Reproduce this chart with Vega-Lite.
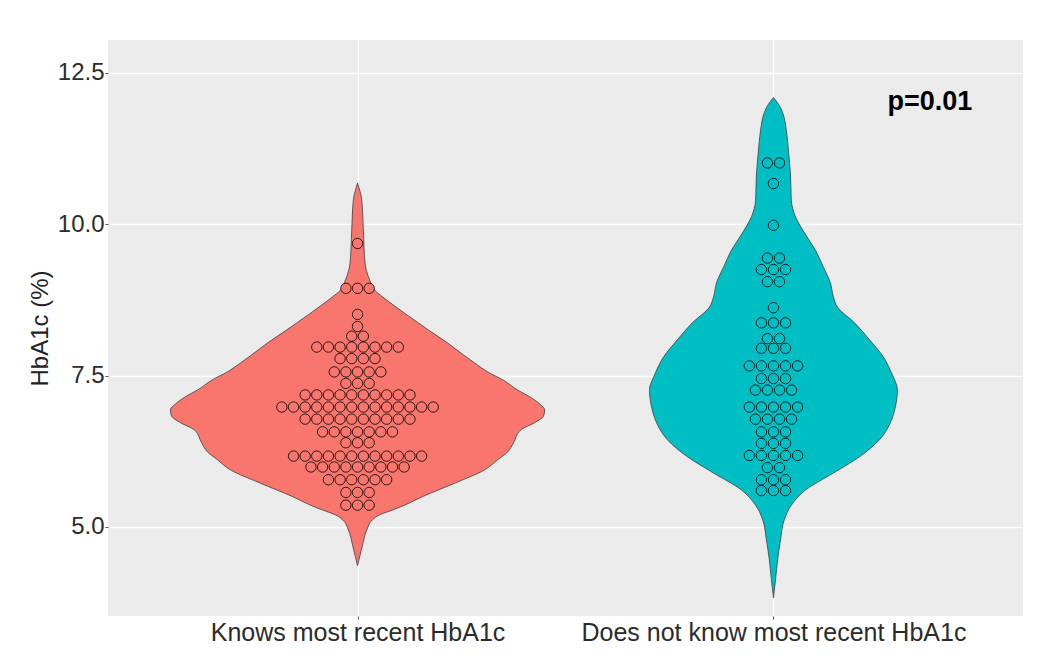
{
  "$schema": "https://vega.github.io/schema/vega-lite/v6.json",
  "width": 915,
  "height": 576,
  "autosize": {"type": "none"},
  "padding": {"left": 108, "top": 40, "right": 28, "bottom": 40},
  "background": "white",
  "config": {
    "view": {"fill": "#EBEBEB", "stroke": null},
    "font": "Liberation Sans",
    "axis": {
      "gridColor": "white",
      "gridWidth": 1.3,
      "domain": false,
      "tickColor": "#555555",
      "tickSize": 3,
      "labelColor": "#2b2b2b",
      "titleColor": "#222222",
      "labelFont": "Liberation Sans",
      "titleFont": "Liberation Sans",
      "titleFontWeight": "normal"
    }
  },
  "datasets": {
    "violin": [
      {"g": "K", "y": 10.68, "lo": 1, "hi": 1},
      {"g": "K", "y": 10.40, "lo": 0.99, "hi": 1.01},
      {"g": "K", "y": 9.90, "lo": 0.986, "hi": 1.014},
      {"g": "K", "y": 9.36, "lo": 0.982, "hi": 1.018},
      {"g": "K", "y": 9.08, "lo": 0.971, "hi": 1.029},
      {"g": "K", "y": 8.91, "lo": 0.959, "hi": 1.041},
      {"g": "K", "y": 8.80, "lo": 0.94, "hi": 1.06},
      {"g": "K", "y": 8.66, "lo": 0.913, "hi": 1.087},
      {"g": "K", "y": 8.53, "lo": 0.887, "hi": 1.113},
      {"g": "K", "y": 8.38, "lo": 0.856, "hi": 1.144},
      {"g": "K", "y": 8.25, "lo": 0.829, "hi": 1.171},
      {"g": "K", "y": 8.04, "lo": 0.784, "hi": 1.216},
      {"g": "K", "y": 7.84, "lo": 0.745, "hi": 1.255},
      {"g": "K", "y": 7.71, "lo": 0.719, "hi": 1.281},
      {"g": "K", "y": 7.56, "lo": 0.687, "hi": 1.313},
      {"g": "K", "y": 7.43, "lo": 0.651, "hi": 1.349},
      {"g": "K", "y": 7.26, "lo": 0.615, "hi": 1.385},
      {"g": "K", "y": 7.15, "lo": 0.586, "hi": 1.414},
      {"g": "K", "y": 7.03, "lo": 0.562, "hi": 1.438},
      {"g": "K", "y": 6.93, "lo": 0.55, "hi": 1.45},
      {"g": "K", "y": 6.83, "lo": 0.553, "hi": 1.447},
      {"g": "K", "y": 6.73, "lo": 0.572, "hi": 1.428},
      {"g": "K", "y": 6.60, "lo": 0.608, "hi": 1.392},
      {"g": "K", "y": 6.39, "lo": 0.625, "hi": 1.375},
      {"g": "K", "y": 6.24, "lo": 0.639, "hi": 1.361},
      {"g": "K", "y": 6.11, "lo": 0.663, "hi": 1.337},
      {"g": "K", "y": 5.94, "lo": 0.695, "hi": 1.305},
      {"g": "K", "y": 5.73, "lo": 0.764, "hi": 1.236},
      {"g": "K", "y": 5.50, "lo": 0.844, "hi": 1.156},
      {"g": "K", "y": 5.36, "lo": 0.887, "hi": 1.113},
      {"g": "K", "y": 5.28, "lo": 0.916, "hi": 1.084},
      {"g": "K", "y": 5.20, "lo": 0.947, "hi": 1.053},
      {"g": "K", "y": 5.12, "lo": 0.964, "hi": 1.036},
      {"g": "K", "y": 4.95, "lo": 0.978, "hi": 1.022},
      {"g": "K", "y": 4.70, "lo": 0.988, "hi": 1.012},
      {"g": "K", "y": 4.36, "lo": 1, "hi": 1},
      {"g": "D", "y": 12.09, "lo": 2, "hi": 2},
      {"g": "D", "y": 11.96, "lo": 1.986, "hi": 2.014},
      {"g": "D", "y": 11.80, "lo": 1.976, "hi": 2.024},
      {"g": "D", "y": 11.55, "lo": 1.969, "hi": 2.031},
      {"g": "D", "y": 11.22, "lo": 1.964, "hi": 2.036},
      {"g": "D", "y": 10.81, "lo": 1.959, "hi": 2.041},
      {"g": "D", "y": 10.39, "lo": 1.957, "hi": 2.043},
      {"g": "D", "y": 10.12, "lo": 1.947, "hi": 2.053},
      {"g": "D", "y": 9.85, "lo": 1.925, "hi": 2.075},
      {"g": "D", "y": 9.57, "lo": 1.899, "hi": 2.101},
      {"g": "D", "y": 9.29, "lo": 1.88, "hi": 2.12},
      {"g": "D", "y": 9.03, "lo": 1.863, "hi": 2.137},
      {"g": "D", "y": 8.80, "lo": 1.856, "hi": 2.144},
      {"g": "D", "y": 8.63, "lo": 1.846, "hi": 2.154},
      {"g": "D", "y": 8.37, "lo": 1.805, "hi": 2.195},
      {"g": "D", "y": 8.09, "lo": 1.769, "hi": 2.231},
      {"g": "D", "y": 7.81, "lo": 1.736, "hi": 2.264},
      {"g": "D", "y": 7.54, "lo": 1.716, "hi": 2.284},
      {"g": "D", "y": 7.26, "lo": 1.702, "hi": 2.298},
      {"g": "D", "y": 6.98, "lo": 1.707, "hi": 2.293},
      {"g": "D", "y": 6.72, "lo": 1.719, "hi": 2.281},
      {"g": "D", "y": 6.44, "lo": 1.745, "hi": 2.255},
      {"g": "D", "y": 6.16, "lo": 1.793, "hi": 2.207},
      {"g": "D", "y": 5.89, "lo": 1.856, "hi": 2.144},
      {"g": "D", "y": 5.61, "lo": 1.923, "hi": 2.077},
      {"g": "D", "y": 5.36, "lo": 1.957, "hi": 2.043},
      {"g": "D", "y": 5.12, "lo": 1.974, "hi": 2.026},
      {"g": "D", "y": 4.79, "lo": 1.983, "hi": 2.017},
      {"g": "D", "y": 4.46, "lo": 1.99, "hi": 2.01},
      {"g": "D", "y": 4.13, "lo": 1.995, "hi": 2.005},
      {"g": "D", "y": 3.83, "lo": 2, "hi": 2}
    ],
    "dots": [
      {"g": "K", "y": 9.68, "x": 1},
      {"g": "K", "y": 8.94, "x": 0.972}, {"g": "K", "y": 8.94, "x": 1}, {"g": "K", "y": 8.94, "x": 1.028},
      {"g": "K", "y": 8.51, "x": 1},
      {"g": "K", "y": 8.31, "x": 1},
      {"g": "K", "y": 8.15, "x": 0.986}, {"g": "K", "y": 8.15, "x": 1.014},
      {"g": "K", "y": 7.97, "x": 0.902}, {"g": "K", "y": 7.97, "x": 0.93}, {"g": "K", "y": 7.97, "x": 0.958}, {"g": "K", "y": 7.97, "x": 0.986}, {"g": "K", "y": 7.97, "x": 1.014}, {"g": "K", "y": 7.97, "x": 1.042}, {"g": "K", "y": 7.97, "x": 1.07}, {"g": "K", "y": 7.97, "x": 1.098},
      {"g": "K", "y": 7.78, "x": 0.958}, {"g": "K", "y": 7.78, "x": 0.986}, {"g": "K", "y": 7.78, "x": 1.014}, {"g": "K", "y": 7.78, "x": 1.042},
      {"g": "K", "y": 7.56, "x": 0.944}, {"g": "K", "y": 7.56, "x": 0.972}, {"g": "K", "y": 7.56, "x": 1}, {"g": "K", "y": 7.56, "x": 1.028}, {"g": "K", "y": 7.56, "x": 1.056},
      {"g": "K", "y": 7.37, "x": 0.972}, {"g": "K", "y": 7.37, "x": 1}, {"g": "K", "y": 7.37, "x": 1.028},
      {"g": "K", "y": 7.18, "x": 0.874}, {"g": "K", "y": 7.18, "x": 0.902}, {"g": "K", "y": 7.18, "x": 0.93}, {"g": "K", "y": 7.18, "x": 0.958}, {"g": "K", "y": 7.18, "x": 0.986}, {"g": "K", "y": 7.18, "x": 1.014}, {"g": "K", "y": 7.18, "x": 1.042}, {"g": "K", "y": 7.18, "x": 1.07}, {"g": "K", "y": 7.18, "x": 1.098}, {"g": "K", "y": 7.18, "x": 1.126},
      {"g": "K", "y": 6.98, "x": 0.818}, {"g": "K", "y": 6.98, "x": 0.846}, {"g": "K", "y": 6.98, "x": 0.874}, {"g": "K", "y": 6.98, "x": 0.902}, {"g": "K", "y": 6.98, "x": 0.93}, {"g": "K", "y": 6.98, "x": 0.958}, {"g": "K", "y": 6.98, "x": 0.986}, {"g": "K", "y": 6.98, "x": 1.014}, {"g": "K", "y": 6.98, "x": 1.042}, {"g": "K", "y": 6.98, "x": 1.07}, {"g": "K", "y": 6.98, "x": 1.098}, {"g": "K", "y": 6.98, "x": 1.126}, {"g": "K", "y": 6.98, "x": 1.154}, {"g": "K", "y": 6.98, "x": 1.182},
      {"g": "K", "y": 6.78, "x": 0.874}, {"g": "K", "y": 6.78, "x": 0.902}, {"g": "K", "y": 6.78, "x": 0.93}, {"g": "K", "y": 6.78, "x": 0.958}, {"g": "K", "y": 6.78, "x": 0.986}, {"g": "K", "y": 6.78, "x": 1.014}, {"g": "K", "y": 6.78, "x": 1.042}, {"g": "K", "y": 6.78, "x": 1.07}, {"g": "K", "y": 6.78, "x": 1.098}, {"g": "K", "y": 6.78, "x": 1.126},
      {"g": "K", "y": 6.57, "x": 0.916}, {"g": "K", "y": 6.57, "x": 0.944}, {"g": "K", "y": 6.57, "x": 0.972}, {"g": "K", "y": 6.57, "x": 1}, {"g": "K", "y": 6.57, "x": 1.028}, {"g": "K", "y": 6.57, "x": 1.056}, {"g": "K", "y": 6.57, "x": 1.084},
      {"g": "K", "y": 6.39, "x": 0.972}, {"g": "K", "y": 6.39, "x": 1}, {"g": "K", "y": 6.39, "x": 1.028},
      {"g": "K", "y": 6.17, "x": 0.846}, {"g": "K", "y": 6.17, "x": 0.874}, {"g": "K", "y": 6.17, "x": 0.902}, {"g": "K", "y": 6.17, "x": 0.93}, {"g": "K", "y": 6.17, "x": 0.958}, {"g": "K", "y": 6.17, "x": 0.986}, {"g": "K", "y": 6.17, "x": 1.014}, {"g": "K", "y": 6.17, "x": 1.042}, {"g": "K", "y": 6.17, "x": 1.07}, {"g": "K", "y": 6.17, "x": 1.098}, {"g": "K", "y": 6.17, "x": 1.126}, {"g": "K", "y": 6.17, "x": 1.154},
      {"g": "K", "y": 5.99, "x": 0.888}, {"g": "K", "y": 5.99, "x": 0.916}, {"g": "K", "y": 5.99, "x": 0.944}, {"g": "K", "y": 5.99, "x": 0.972}, {"g": "K", "y": 5.99, "x": 1}, {"g": "K", "y": 5.99, "x": 1.028}, {"g": "K", "y": 5.99, "x": 1.056}, {"g": "K", "y": 5.99, "x": 1.084}, {"g": "K", "y": 5.99, "x": 1.112},
      {"g": "K", "y": 5.78, "x": 0.93}, {"g": "K", "y": 5.78, "x": 0.958}, {"g": "K", "y": 5.78, "x": 0.986}, {"g": "K", "y": 5.78, "x": 1.014}, {"g": "K", "y": 5.78, "x": 1.042}, {"g": "K", "y": 5.78, "x": 1.07},
      {"g": "K", "y": 5.57, "x": 0.972}, {"g": "K", "y": 5.57, "x": 1}, {"g": "K", "y": 5.57, "x": 1.028},
      {"g": "K", "y": 5.36, "x": 0.972}, {"g": "K", "y": 5.36, "x": 1}, {"g": "K", "y": 5.36, "x": 1.028},
      {"g": "D", "y": 11.01, "x": 1.9855}, {"g": "D", "y": 11.01, "x": 2.0145},
      {"g": "D", "y": 10.67, "x": 2},
      {"g": "D", "y": 9.98, "x": 2},
      {"g": "D", "y": 9.44, "x": 1.9855}, {"g": "D", "y": 9.44, "x": 2.0145},
      {"g": "D", "y": 9.25, "x": 1.971}, {"g": "D", "y": 9.25, "x": 2}, {"g": "D", "y": 9.25, "x": 2.029},
      {"g": "D", "y": 9.05, "x": 1.9855}, {"g": "D", "y": 9.05, "x": 2.0145},
      {"g": "D", "y": 8.62, "x": 2},
      {"g": "D", "y": 8.37, "x": 1.971}, {"g": "D", "y": 8.37, "x": 2}, {"g": "D", "y": 8.37, "x": 2.029},
      {"g": "D", "y": 8.11, "x": 1.9855}, {"g": "D", "y": 8.11, "x": 2.0145},
      {"g": "D", "y": 7.95, "x": 1.971}, {"g": "D", "y": 7.95, "x": 2}, {"g": "D", "y": 7.95, "x": 2.029},
      {"g": "D", "y": 7.66, "x": 1.942}, {"g": "D", "y": 7.66, "x": 1.971}, {"g": "D", "y": 7.66, "x": 2}, {"g": "D", "y": 7.66, "x": 2.029}, {"g": "D", "y": 7.66, "x": 2.058},
      {"g": "D", "y": 7.45, "x": 1.971}, {"g": "D", "y": 7.45, "x": 2}, {"g": "D", "y": 7.45, "x": 2.029},
      {"g": "D", "y": 7.26, "x": 1.9565}, {"g": "D", "y": 7.26, "x": 1.9855}, {"g": "D", "y": 7.26, "x": 2.0145}, {"g": "D", "y": 7.26, "x": 2.0435},
      {"g": "D", "y": 6.98, "x": 1.942}, {"g": "D", "y": 6.98, "x": 1.971}, {"g": "D", "y": 6.98, "x": 2}, {"g": "D", "y": 6.98, "x": 2.029}, {"g": "D", "y": 6.98, "x": 2.058},
      {"g": "D", "y": 6.78, "x": 1.9565}, {"g": "D", "y": 6.78, "x": 1.9855}, {"g": "D", "y": 6.78, "x": 2.0145}, {"g": "D", "y": 6.78, "x": 2.0435},
      {"g": "D", "y": 6.57, "x": 1.971}, {"g": "D", "y": 6.57, "x": 2}, {"g": "D", "y": 6.57, "x": 2.029},
      {"g": "D", "y": 6.38, "x": 1.971}, {"g": "D", "y": 6.38, "x": 2}, {"g": "D", "y": 6.38, "x": 2.029},
      {"g": "D", "y": 6.18, "x": 1.942}, {"g": "D", "y": 6.18, "x": 1.971}, {"g": "D", "y": 6.18, "x": 2}, {"g": "D", "y": 6.18, "x": 2.029}, {"g": "D", "y": 6.18, "x": 2.058},
      {"g": "D", "y": 5.98, "x": 1.9855}, {"g": "D", "y": 5.98, "x": 2.0145},
      {"g": "D", "y": 5.78, "x": 1.971}, {"g": "D", "y": 5.78, "x": 2}, {"g": "D", "y": 5.78, "x": 2.029},
      {"g": "D", "y": 5.60, "x": 1.971}, {"g": "D", "y": 5.60, "x": 2}, {"g": "D", "y": 5.60, "x": 2.029}
    ],
    "note": [
      {"x": 2.376, "y": 11.88, "t": "p=0.01"}
    ]
  },
  "layer": [
    {
      "data": {"name": "violin"},
      "mark": {"type": "area", "orient": "horizontal", "interpolate": "monotone", "stroke": "#3d3d3d", "strokeWidth": 0.8, "fillOpacity": 1},
      "encoding": {
        "y": {
          "field": "y", "type": "quantitative",
          "scale": {"domain": [3.53, 13.04], "nice": false, "zero": false},
          "axis": {"values": [5, 7.5, 10, 12.5], "format": ".1f", "title": "HbA1c (%)", "titleFontSize": 24, "labelFontSize": 24, "labelPadding": 1, "titlePadding": 5}
        },
        "x": {
          "field": "lo", "type": "quantitative",
          "scale": {"domain": [0.4, 2.6], "nice": false, "zero": false},
          "axis": {"values": [1, 2], "labelExpr": "datum.value == 1 ? 'Knows most recent HbA1c' : 'Does not know most recent HbA1c'", "title": null, "labelFontSize": 25, "labelLimit": 0, "labelOverlap": false, "labelFlush": false, "labelBound": false, "labelPadding": 1}
        },
        "x2": {"field": "hi"},
        "fill": {"field": "g", "type": "nominal", "scale": {"domain": ["K", "D"], "range": ["#F8766D", "#00BFC4"]}, "legend": null}
      }
    },
    {
      "data": {"name": "dots"},
      "mark": {"type": "point", "shape": "circle", "filled": true, "size": 108, "stroke": "black", "strokeWidth": 1, "strokeOpacity": 0.8, "fillOpacity": 1, "opacity": 1},
      "encoding": {
        "x": {"field": "x", "type": "quantitative"},
        "y": {"field": "y", "type": "quantitative"},
        "fill": {"field": "g", "type": "nominal", "legend": null}
      }
    },
    {
      "data": {"name": "note"},
      "mark": {"type": "text", "font": "Liberation Sans", "fontWeight": "bold", "fontSize": 27, "align": "center", "baseline": "alphabetic", "color": "black"},
      "encoding": {
        "x": {"field": "x", "type": "quantitative"},
        "y": {"field": "y", "type": "quantitative"},
        "text": {"field": "t"}
      }
    }
  ]
}
